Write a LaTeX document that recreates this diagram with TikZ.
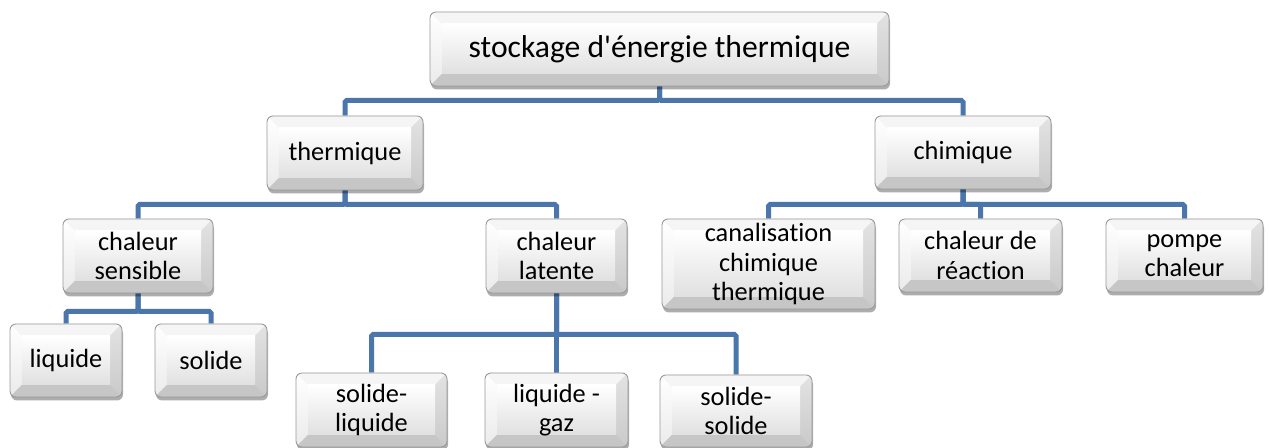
\documentclass[tikz,border=0pt]{standalone}
\usepackage{fontspec}
\setmainfont{Carlito}[Ligatures={TeXOff,CommonOff}]
\usetikzlibrary{calc,shadows,backgrounds}

\definecolor{linkblue}{RGB}{74,118,172}
\newcommand{\bevelw}{0.24cm}
\newcommand{\boxfont}{\fontsize{15}{16.6}\selectfont}
\newcommand{\titlefont}{\fontsize{18}{20}\selectfont}

\tikzset{
  sz/.style 2 args={minimum width=#1*0.02cm, minimum height=#2*0.02cm},
  bevelbox/.style={
    rectangle, rounded corners=0.12cm, draw=black!40, line width=0.5pt,
    fill=gray!25, inner sep=0pt, align=center, font=\boxfont, text=black,
    drop shadow={shadow xshift=0.02cm, shadow yshift=-0.07cm, opacity=0.32, fill=black},
    path picture={
      \coordinate (pSW) at (path picture bounding box.south west);
      \coordinate (pNE) at (path picture bounding box.north east);
      \coordinate (pNW) at (pSW |- pNE);
      \coordinate (pSE) at (pNE |- pSW);
      \coordinate (qSW) at ($(pSW)+(\bevelw,\bevelw)$);
      \coordinate (qNE) at ($(pNE)+(-\bevelw,-\bevelw)$);
      \coordinate (qNW) at (qSW |- qNE);
      \coordinate (qSE) at (qNE |- qSW);
      % top face
      \fill[sharp corners, gray!8] (pNW) -- (pNE) -- (qNE) -- (qNW) -- cycle;
      % left face
      \shade[sharp corners, top color=white, bottom color=gray!16] (pNW) -- (qNW) -- (qSW) -- (pSW) -- cycle;
      % right face
      \shade[sharp corners, top color=gray!22, bottom color=gray!42] (pNE) -- (pSE) -- (qSE) -- (qNE) -- cycle;
      % bottom face
      \fill[sharp corners, gray!45] (pSW) -- (qSW) -- (qSE) -- (pSE) -- cycle;
      % inner face
      \shade[sharp corners, top color=white, bottom color=gray!24] (qSW) rectangle (qNE);
    }
  },
  conn/.style={draw=linkblue, line width=0.1cm, rounded corners=1pt}
}

\begin{document}
\begin{tikzpicture}[x=0.02cm, y=-0.02cm]
  % root
  \node[bevelbox, sz={459}{74}, font=\titlefont] (top) at (659.5,49) {stockage d'énergie thermique};
  % second level
  \node[bevelbox, sz={156}{74}] (therm) at (345,153) {thermique};
  \node[bevelbox, sz={176}{73}] (chim) at (963,152.5) {chimique};
  % thermal branch
  \node[bevelbox, sz={150}{74}] (sens) at (138,256) {chaleur\\sensible};
  \node[bevelbox, sz={141}{74}] (lat) at (556.5,256) {chaleur\\latente};
  \node[bevelbox, sz={112}{73}] (liq) at (66,360.5) {liquide};
  \node[bevelbox, sz={112}{73}] (sol) at (211,360.5) {solide};
  \node[bevelbox, sz={151}{74}] (sl) at (371.5,410) {solide-\\liquide};
  \node[bevelbox, sz={143}{74}] (lg) at (556.5,410) {liquide -\\gaz};
  \node[bevelbox, sz={152}{72}] (ss) at (736,411) {solide-\\solide};
  % chemical branch
  \node[bevelbox, sz={213}{90}] (canal) at (768.5,264) {canalisation\\chimique\\thermique};
  \node[bevelbox, sz={163}{73}] (react) at (980.5,255.5) {chaleur de\\réaction};
  \node[bevelbox, sz={157}{73}] (pompe) at (1184.5,255.5) {pompe\\chaleur};

  \begin{scope}[on background layer]
    \fill[white] (0,0) rectangle (1269,448);
    % root to second level
    \draw[conn] (top.south) -- ++(0,14) -| (therm.north);
    \draw[conn] (top.south) -- ++(0,14) -| (chim.north);
    % thermique
    \draw[conn] (therm.south) -- ++(0,14) -| (sens.north);
    \draw[conn] (therm.south) -- ++(0,14) -| (lat.north);
    % chaleur sensible
    \draw[conn] (sens.south) -- ++(0,18) -| (liq.north);
    \draw[conn] (sens.south) -- ++(0,18) -| (sol.north);
    % chaleur latente
    \draw[conn] (lat.south) -- ++(0,41) -| (sl.north);
    \draw[conn] (lat.south) -- (lg.north);
    \draw[conn] (lat.south) -- ++(0,41) -| (ss.north);
    % chimique
    \draw[conn] (chim.south) -- ++(0,15) -| (canal.north);
    \draw[conn] (chim.south) -- ++(0,15) -| (react.north);
    \draw[conn] (chim.south) -- ++(0,15) -| (pompe.north);
  \end{scope}
  \useasboundingbox (0,0) rectangle (1269,448);
\end{tikzpicture}
\end{document}
